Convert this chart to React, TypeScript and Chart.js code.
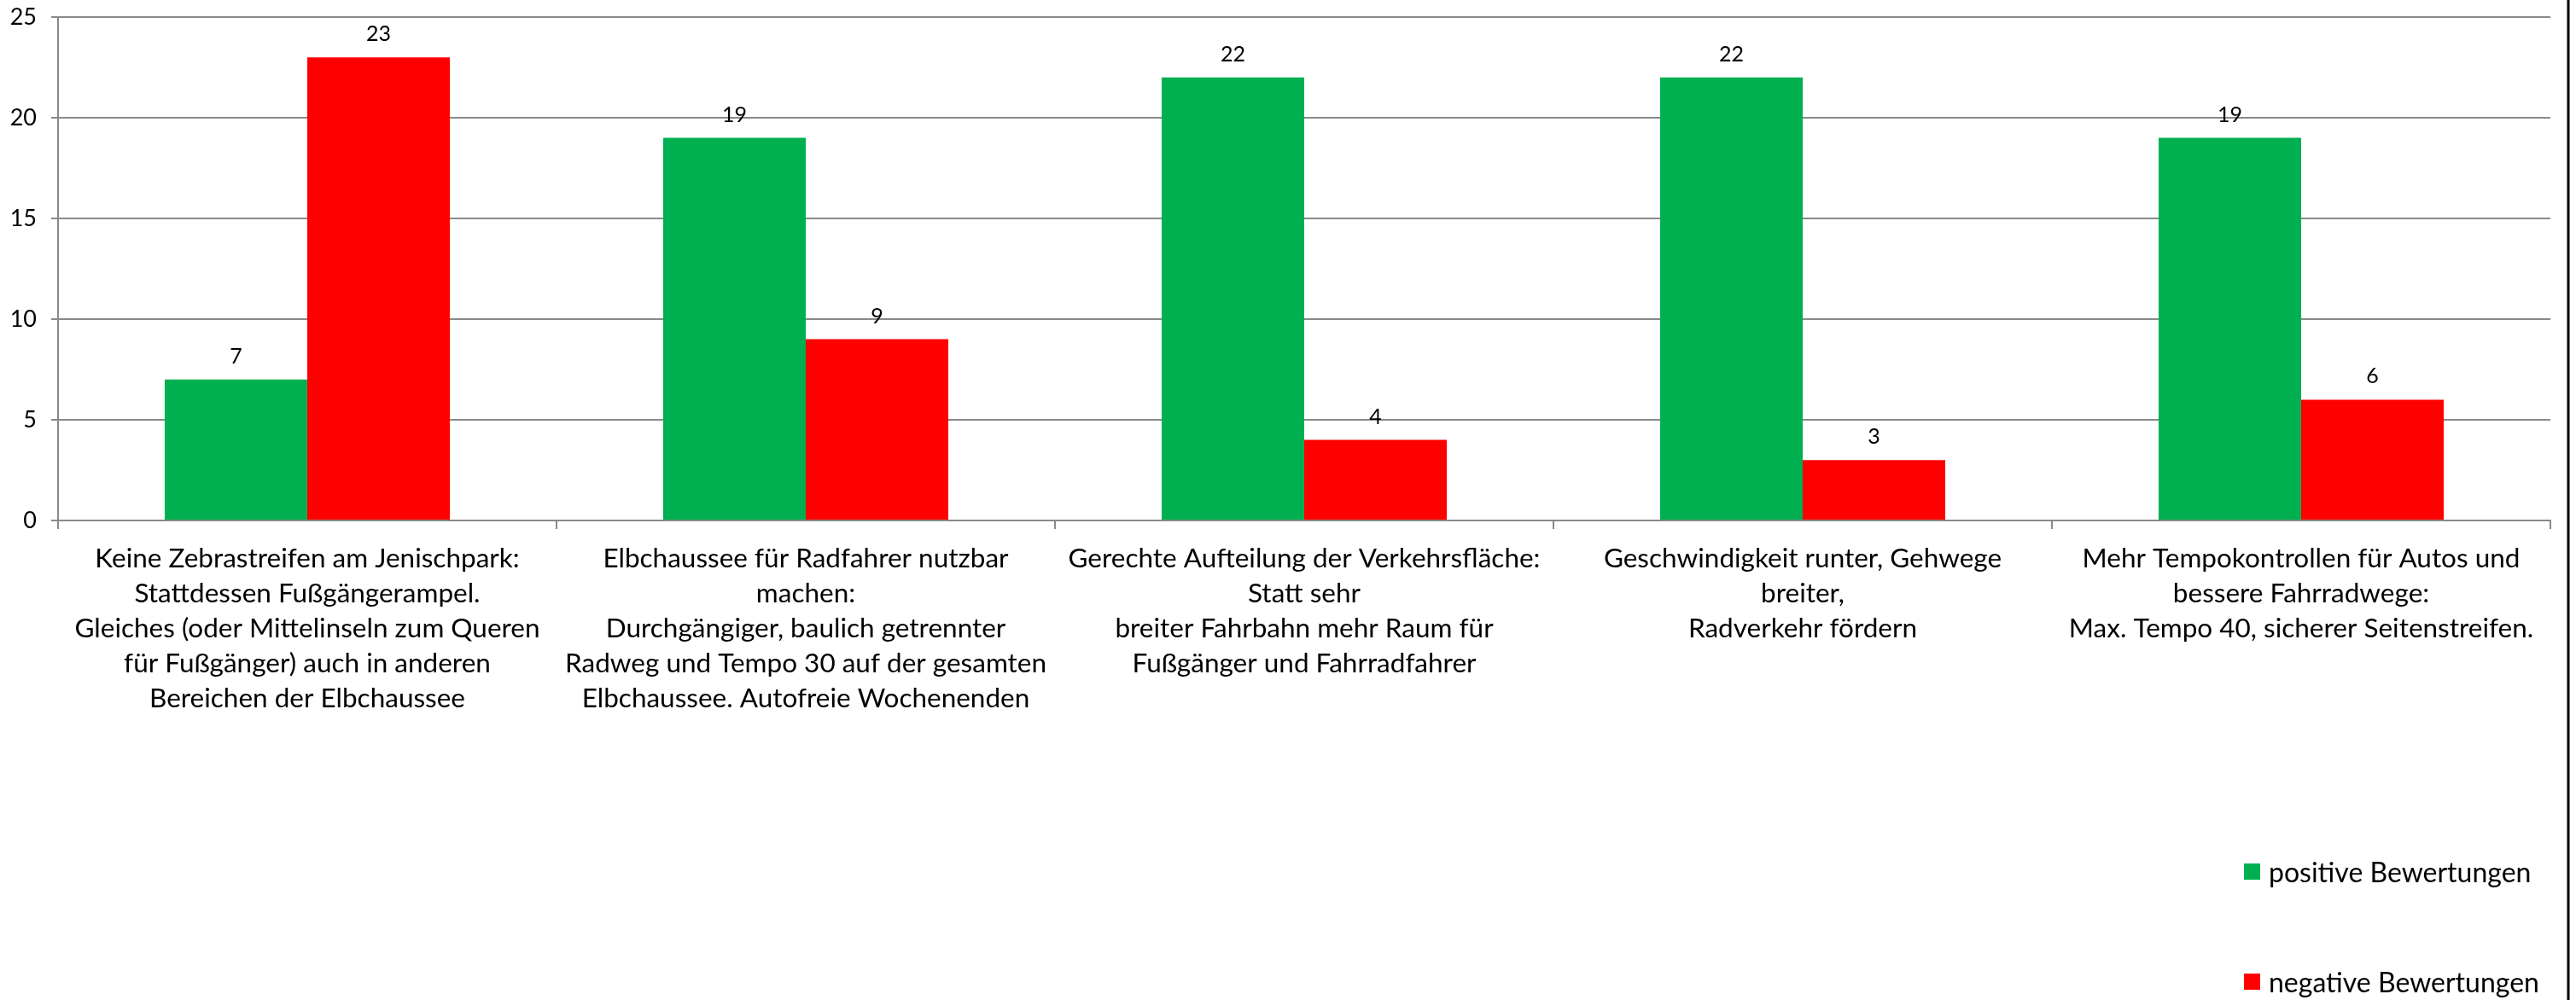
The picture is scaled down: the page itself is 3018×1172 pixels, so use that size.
import React, { useEffect, useRef } from "react";
import { Chart, registerables } from "chart.js";

Chart.register(...registerables);

const categories: string[][] = [
  ["Keine Zebrastreifen am Jenischpark:", "Stattdessen Fußgängerampel.", "Gleiches (oder Mittelinseln zum Queren", "für Fußgänger) auch in anderen", "Bereichen der Elbchaussee"],
  ["Elbchaussee für Radfahrer nutzbar", "machen:", "Durchgängiger, baulich getrennter", "Radweg und Tempo 30 auf der gesamten", "Elbchaussee. Autofreie Wochenenden"],
  ["Gerechte Aufteilung der Verkehrsfläche:", "Statt sehr", "breiter Fahrbahn mehr Raum für", "Fußgänger und Fahrradfahrer"],
  ["Geschwindigkeit runter, Gehwege", "breiter,", "Radverkehr fördern"],
  ["Mehr Tempokontrollen für Autos und", "bessere Fahrradwege:", "Max. Tempo 40, sicherer Seitenstreifen."],
];
const positiveValues: number[] = [7, 19, 22, 22, 19];
const negativeValues: number[] = [23, 9, 4, 3, 6];
const seriesNames: string[] = ["positive Bewertungen", "negative Bewertungen"];
const seriesColors: string[] = ["#00B050", "#FF0000"];

const FONT = "Lato, 'Open Sans', sans-serif";

const valueLabels = {
  id: "valueLabels",
  afterDatasetsDraw(chart: any) {
    const ctx = chart.ctx;
    ctx.save();
    ctx.font = `25px ${FONT}`;
    ctx.fillStyle = "#000";
    ctx.textAlign = "center";
    ctx.textBaseline = "alphabetic";
    chart.data.datasets.forEach((ds: any, i: number) => {
      const meta = chart.getDatasetMeta(i);
      meta.data.forEach((bar: any, j: number) => {
        ctx.fillText(String(ds.data[j]), bar.x, bar.y - 19);
      });
    });
    ctx.restore();
  },
};

const frameLine = {
  id: "frameLine",
  afterDraw(chart: any) {
    const ctx = chart.ctx;
    ctx.save();
    ctx.strokeStyle = "#000";
    ctx.lineWidth = 3;
    ctx.beginPath();
    ctx.moveTo(3009, 0);
    ctx.lineTo(3009, chart.height);
    ctx.stroke();
    ctx.restore();
  },
};

export default function App() {
  const ref = useRef<HTMLCanvasElement | null>(null);
  useEffect(() => {
    document.body.style.margin = "0";
    const chart = new Chart(ref.current as HTMLCanvasElement, {
      type: "bar",
      data: {
        labels: categories as any,
        datasets: [
          { label: seriesNames[0], data: positiveValues, backgroundColor: seriesColors[0] },
          { label: seriesNames[1], data: negativeValues, backgroundColor: seriesColors[1] },
        ],
      },
      options: {
        animation: false,
        responsive: false,
        layout: { padding: { left: 0, top: 20, right: 30, bottom: 0 } },
        plugins: { legend: { display: false }, tooltip: { enabled: false } },
        datasets: { bar: { categoryPercentage: 0.572, barPercentage: 1 } } as any,
        scales: {
          x: {
            grid: { offset: true, drawOnChartArea: false, drawTicks: true, tickLength: 10, color: "#898989", lineWidth: 2 },
            border: { color: "#898989", width: 2 },
            ticks: {
              autoSkip: false,
              maxRotation: 0,
              minRotation: 0,
              padding: 14,
              color: "#000",
              font: { family: FONT, size: 31.5, lineHeight: "41px" as any },
            },
            afterFit(scale: any) {
              scale.height = 1172 - 610;
              scale.paddingLeft = 0;
              scale.paddingRight = 0;
            },
          },
          y: {
            min: 0,
            max: 25,
            ticks: { stepSize: 5, padding: 17, color: "#000", font: { family: FONT, size: 27 } },
            grid: { color: "#898989", lineWidth: 2, tickLength: 8 },
            border: { color: "#898989", width: 2 },
            afterFit(scale: any) {
              scale.width = 68;
              scale.paddingTop = 0;
              scale.paddingBottom = 0;
            },
          },
        },
      },
      plugins: [valueLabels, frameLine],
    });
    return () => chart.destroy();
  }, []);

  const legendItem = (i: number, top: number) => (
    <div
      key={i}
      style={{
        position: "absolute",
        left: 2629,
        top,
        display: "flex",
        alignItems: "center",
        fontFamily: FONT,
        fontSize: 32,
        color: "#000",
        whiteSpace: "nowrap",
      }}
    >
      <span style={{ display: "inline-block", width: 19, height: 19, background: seriesColors[i], marginRight: 10 }} />
      <span>{seriesNames[i]}</span>
    </div>
  );

  return (
    <div style={{ position: "relative", width: 3018, height: 1172, background: "#fff" }}>
      <canvas ref={ref} width={3018} height={1172} style={{ display: "block" }} />
      {legendItem(0, 1002)}
      {legendItem(1, 1131)}
    </div>
  );
}
